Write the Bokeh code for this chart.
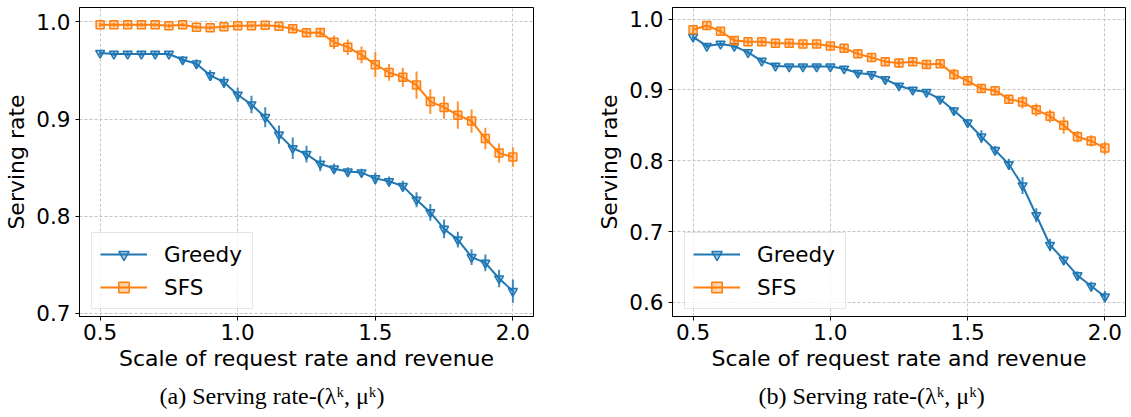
from bokeh.plotting import figure
from bokeh.models import Range1d, FixedTicker, Legend, LegendItem, Title, PrintfTickFormatter, ColumnDataSource
from bokeh.layouts import row
from bokeh.embed import file_html
from bokeh.resources import INLINE

scale = [0.5, 0.55, 0.6, 0.65, 0.7, 0.75, 0.8, 0.85, 0.9, 0.95, 1.0, 1.05, 1.1, 1.15, 1.2, 1.25,
         1.3, 1.35, 1.4, 1.45, 1.5, 1.55, 1.6, 1.65, 1.7, 1.75, 1.8, 1.85, 1.9, 1.95, 2.0]

# panel (a)
greedy_a = [0.968, 0.967, 0.967, 0.967, 0.967, 0.967, 0.961, 0.957, 0.945, 0.938, 0.925, 0.915, 0.902, 0.884, 0.870, 0.864,
            0.854, 0.849, 0.846, 0.845, 0.839, 0.836, 0.831, 0.817, 0.804, 0.787, 0.776, 0.758, 0.752, 0.736, 0.723]
greedy_a_err = [0.0025, 0.002, 0.002, 0.002, 0.002, 0.002, 0.004, 0.0045, 0.0055, 0.0057, 0.0074, 0.0089, 0.0103, 0.0094, 0.011, 0.0086,
                0.0077, 0.005, 0.0045, 0.004, 0.006, 0.005, 0.0056, 0.0077, 0.0086, 0.0096, 0.008, 0.008, 0.0086, 0.009, 0.012]
sfs_a = [0.997, 0.997, 0.997, 0.997, 0.997, 0.996, 0.997, 0.9945, 0.994, 0.995, 0.996, 0.996, 0.9965, 0.9955, 0.993, 0.9887,
         0.989, 0.979, 0.974, 0.966, 0.956, 0.948, 0.943, 0.935, 0.918, 0.912, 0.904, 0.898, 0.880, 0.865, 0.861]
sfs_a_err = [0.002, 0.002, 0.002, 0.002, 0.002, 0.002, 0.002, 0.002, 0.002, 0.002, 0.002, 0.002, 0.002, 0.002, 0.003, 0.004,
             0.004, 0.007, 0.008, 0.0086, 0.013, 0.0086, 0.0098, 0.014, 0.0127, 0.0116, 0.014, 0.012, 0.011, 0.010, 0.010]

# panel (b)
greedy_b = [0.975, 0.962, 0.965, 0.962, 0.953, 0.941, 0.934, 0.933, 0.933, 0.933, 0.933, 0.930, 0.924, 0.922, 0.915, 0.906,
            0.900, 0.897, 0.887, 0.871, 0.854, 0.834, 0.815, 0.795, 0.765, 0.723, 0.681, 0.660, 0.638, 0.623, 0.608]
greedy_b_err = [0.004, 0.003, 0.003, 0.003, 0.003, 0.003, 0.003, 0.003, 0.003, 0.003, 0.003, 0.003, 0.004, 0.004, 0.004, 0.004,
                0.004, 0.004, 0.004, 0.005, 0.005, 0.009, 0.006, 0.008, 0.012, 0.010, 0.009, 0.006, 0.006, 0.006, 0.008]
sfs_b = [0.985, 0.991, 0.983, 0.970, 0.968, 0.968, 0.966, 0.966, 0.965, 0.965, 0.962, 0.959, 0.951, 0.946, 0.940, 0.938,
         0.940, 0.936, 0.937, 0.922, 0.913, 0.902, 0.899, 0.887, 0.883, 0.872, 0.863, 0.850, 0.834, 0.828, 0.818]
sfs_b_err = [0.005, 0.005, 0.005, 0.005, 0.004, 0.004, 0.004, 0.004, 0.004, 0.004, 0.004, 0.005, 0.005, 0.005, 0.006, 0.006,
             0.006, 0.006, 0.005, 0.008, 0.007, 0.006, 0.006, 0.006, 0.009, 0.009, 0.009, 0.012, 0.008, 0.008, 0.009]

x_ticks = [0.5, 1.0, 1.5, 2.0]
y_ticks_a = [0.7, 0.8, 0.9, 1.0]
y_ticks_b = [0.6, 0.7, 0.8, 0.9, 1.0]
series_names = ["Greedy", "SFS"]
captions = ["(a) Serving rate-(\u03bb\u1d4f, \u03bc\u1d4f)", "(b) Serving rate-(\u03bb\u1d4f, \u03bc\u1d4f)"]
x_label = "Scale of request rate and revenue"
y_label = "Serving rate"

BLUE = "#1f77b4"
ORANGE = "#ff7f0e"
FONT = "DejaVu Sans"
TICK_FS = "21.5px"
LABEL_FS = "22px"


def panel(greedy, gerr, sfs, serr, yr, yticks, caption, frame_w, bl, br, cap_off):
    p = figure(frame_width=frame_w, frame_height=309,
               min_border_left=bl, min_border_right=br, min_border_top=7, min_border_bottom=99,
               x_range=Range1d(0.425, 2.075), y_range=Range1d(*yr),
               output_backend="svg", toolbar_location=None,
               background_fill_color="white", border_fill_color="white")
    p.outline_line_color = "black"
    p.outline_line_width = 1
    p.xaxis.ticker = FixedTicker(ticks=x_ticks)
    p.yaxis.ticker = FixedTicker(ticks=yticks)
    for ax in (p.xaxis[0], p.yaxis[0]):
        ax.formatter = PrintfTickFormatter(format="%.1f")
        ax.axis_label_text_font = FONT
        ax.axis_label_text_font_size = LABEL_FS
        ax.axis_label_text_font_style = "normal"
        ax.axis_label_text_color = "black"
        ax.major_label_text_font = FONT
        ax.major_label_text_font_size = TICK_FS
        ax.major_label_text_color = "black"
        ax.major_tick_out = 4
        ax.major_tick_in = 0
        ax.minor_tick_out = 0
        ax.minor_tick_in = 0
        ax.axis_line_color = "black"
        ax.major_tick_line_color = "black"
    p.xaxis.axis_label = x_label
    p.yaxis.axis_label = y_label
    p.xaxis.major_label_standoff = 3
    p.xaxis.axis_label_standoff = 3
    p.yaxis.major_label_standoff = 5
    p.yaxis.axis_label_standoff = 4
    for g in (p.xgrid[0], p.ygrid[0]):
        g.grid_line_color = "#c4c4c4"
        g.grid_line_dash = "3 2"
        g.grid_line_width = 1

    items = []
    for name, vals, errs, col, mk, sz in ((series_names[0], greedy, gerr, BLUE, "inverted_triangle", 9),
                                          (series_names[1], sfs, serr, ORANGE, "square", 8)):
        src = ColumnDataSource(dict(x=scale, y=vals,
                                    lo=[v - e for v, e in zip(vals, errs)],
                                    hi=[v + e for v, e in zip(vals, errs)]))
        ln = p.line("x", "y", source=src, line_color=col, line_width=2)
        p.segment(x0="x", y0="lo", x1="x", y1="hi", source=src, line_color=col, line_width=2, line_alpha=0.85)
        sc = p.scatter("x", "y", source=src, marker=mk, size=sz, fill_color=col, fill_alpha=0.35,
                       line_color=col, line_width=1.5)
        cross = p.scatter(x=[], y=[], marker="cross", size=12, line_color=col, line_width=2)
        items.append(LegendItem(label=name, renderers=[ln, cross, sc]))

    leg = Legend(items=items, location=(12, 7), margin=0,
                 label_text_font=FONT, label_text_font_size=TICK_FS, label_text_color="black",
                 glyph_width=47, glyph_height=26, label_height=26, label_width=80, spacing=7, padding=8,
                 label_standoff=17, border_line_color="#cccccc", border_line_width=1,
                 background_fill_color="white", background_fill_alpha=0.8)
    p.add_layout(leg)

    p.add_layout(Title(text=caption, align="left", offset=cap_off, standoff=14,
                       text_font="Liberation Serif", text_font_size="24px", text_font_style="normal",
                       text_color="black"), "below")
    return p


p1 = panel(greedy_a, greedy_a_err, sfs_a, sfs_a_err, (0.6969, 1.0148), y_ticks_a, captions[0], 454, 79, 58, 80)
p2 = panel(greedy_b, greedy_b_err, sfs_b, sfs_b_err, (0.580, 1.0165), y_ticks_b, captions[1], 453, 81, 4, 86)

layout = row(p1, p2, spacing=0)
open("out.html", "w").write(file_html(layout, INLINE))
